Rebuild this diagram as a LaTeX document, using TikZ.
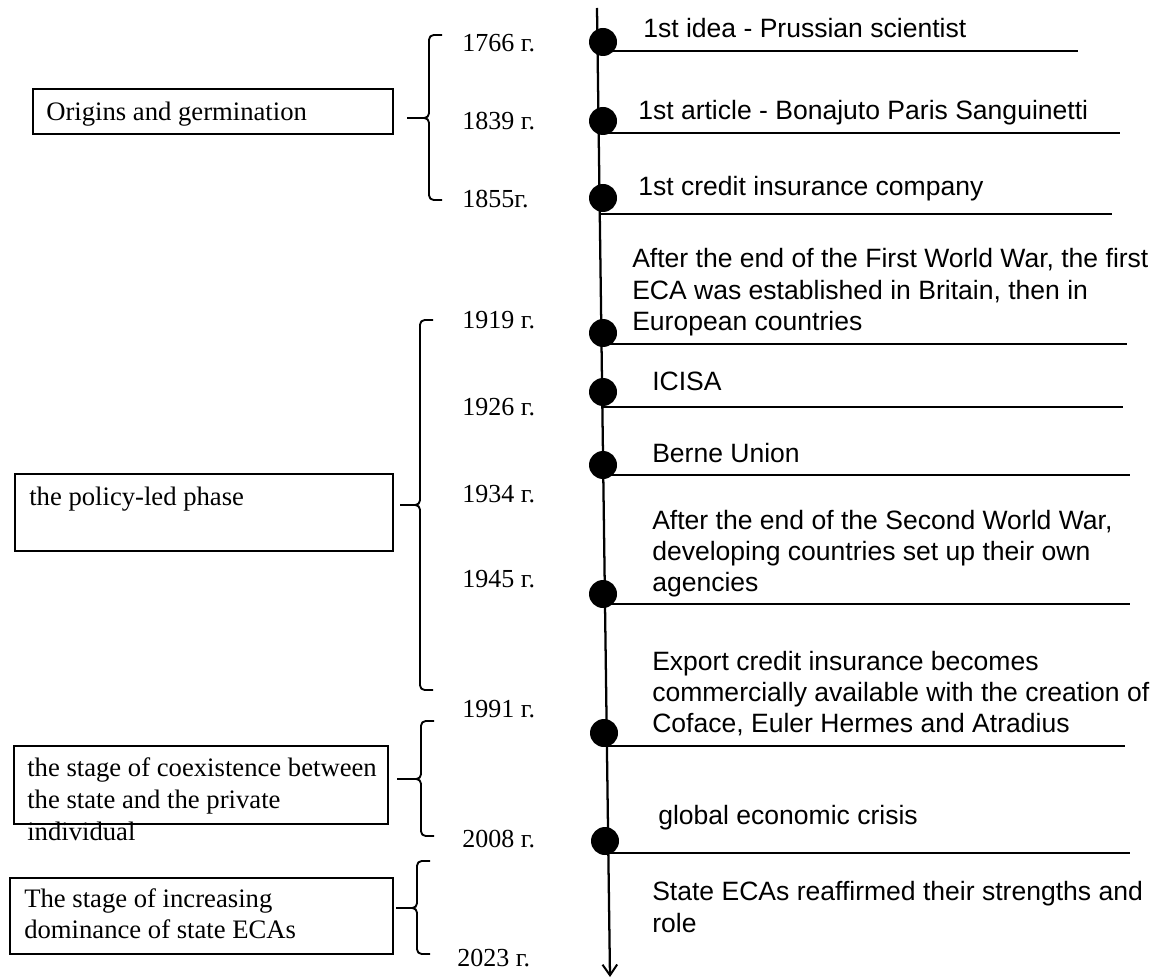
\documentclass[tikz,border=0pt]{standalone}
\usepackage{fontspec}
\setmainfont{Liberation Serif}
\newfontfamily\notefont{Liberation Sans}
\usetikzlibrary{arrows.meta}

% left brace: x of the spine, top y, bottom y, x of the point, y of the point
\newcommand\stagebrace[5]{%
  \draw[bracepath] (#1+13,#2) -- (#1,#2) -- (#1,#5) -- (#4,#5);
  \draw[bracepath] (#1+13,#3) -- (#1,#3) -- (#1,#5) -- (#4,#5);}

\begin{document}
\begin{tikzpicture}[x=0.75pt,y=-0.75pt,
  axisline/.style={line width=1.7pt},
  tickline/.style={line width=1.4pt},
  eventdot/.style={circle,fill=black,inner sep=0pt,minimum size=21pt},
  stagebox/.style={draw,line width=1.4pt,anchor=north west,inner sep=0pt},
  stagetext/.style={anchor=base west,inner sep=0pt,font=\fontsize{20}{23}\selectfont},
  yeartext/.style={anchor=base west,inner sep=0pt,font=\fontsize{19.5}{22}\selectfont},
  eventtext/.style={anchor=base west,inner sep=0pt,font=\notefont\fontsize{19.9}{23}\selectfont},
  bracepath/.style={line width=1.4pt,rounded corners=3.5pt}
]
\useasboundingbox (0,0) rectangle (1156,980);

% time axis
\coordinate (axtop) at (597,8);
\coordinate (axend) at (610,977);
\draw[axisline,-{Straight Barb[length=8pt,width=11pt,line width=1.5pt]}] (axtop) -- (axend);

% event rules under each entry
\foreach \n/\y/\xs/\xe in {1766/51/598/1078, 1839/133/599/1120, 1855/214/599/1112,
  1919/344/601/1127, 1926/407/602/1123, 1934/475/603/1130, 1945/604/604/1130,
  1991/746/606/1125, 2008/853/608/1130}{
  \coordinate (s\n) at (\xs,\y);
  \coordinate (e\n) at (\xe,\y);
  \draw[tickline] (s\n) -- (e\n);
}

% event markers
\foreach \n/\x/\y in {1766/603/42, 1839/603/121, 1855/603/198, 1919/603/333,
  1926/603/392, 1934/603/465, 1945/603/594, 1991/604/733, 2008/605/841}{
  \node[eventdot] (d\n) at (\x,\y) {};
}

% years
\node[yeartext] (y1766) at (462,52) {1766 г.};
\node[yeartext] (y1839) at (462,130) {1839 г.};
\node[yeartext] (y1855) at (462,208) {1855г.};
\node[yeartext] (y1919) at (462,329) {1919 г.};
\node[yeartext] (y1926) at (462,415) {1926 г.};
\node[yeartext] (y1934) at (462,502) {1934 г.};
\node[yeartext] (y1945) at (462,587) {1945 г.};
\node[yeartext] (y1991) at (462,717) {1991 г.};
\node[yeartext] (y2008) at (462,847) {2008 г.};
\node[yeartext] (y2023) at (457,966) {2023 г.};

% event descriptions
\node[eventtext] (t1766) at (643,38) {1st idea - Prussian scientist};
\node[eventtext] (t1839) at (638,120) {1st article - Bonajuto Paris Sanguinetti};
\node[eventtext] (t1855) at (638,196) {1st credit insurance company};
\node[eventtext] (t1919a) at (632,268) {After the end of the First World War, the first};
\node[eventtext] (t1919b) at (632,300) {ECA was established in Britain, then in};
\node[eventtext] (t1919c) at (632,331) {European countries};
\node[eventtext] (t1926) at (652,391) {ICISA};
\node[eventtext] (t1934) at (652,462) {Berne Union};
\node[eventtext] (t1945a) at (652,529) {After the end of the Second World War,};
\node[eventtext] (t1945b) at (652,560) {developing countries set up their own};
\node[eventtext] (t1945c) at (652,591) {agencies};
\node[eventtext] (t1991a) at (652,670) {Export credit insurance becomes};
\node[eventtext] (t1991b) at (652,701) {commercially available with the creation of};
\node[eventtext] (t1991c) at (652,732) {Coface, Euler Hermes and Atradius};
\node[eventtext] (t2008) at (658,824) {global economic crisis};
\node[eventtext] (t2023a) at (652,900) {State ECAs reaffirmed their strengths and};
\node[eventtext] (t2023b) at (652,932) {role};

% stage boxes
\node[stagebox,minimum width=270pt,minimum height=33.75pt] (stage1) at (32,88) {};
\node[stagebox,minimum width=283.5pt,minimum height=57.75pt] (stage2) at (14,473) {};
\node[stagebox,minimum width=280.5pt,minimum height=58.5pt] (stage3) at (13,745) {};
\node[stagebox,minimum width=287.25pt,minimum height=57pt] (stage4) at (9,877) {};

\node[stagetext] (s1text) at (46,121) {Origins and germination};
\node[stagetext] (s2text) at (29,505) {the policy-led phase};
\node[stagetext] (s3texta) at (27,776) {the stage of coexistence between};
\node[stagetext] (s3textb) at (27,808) {the state and the private};
\node[stagetext] (s3textc) at (27,840) {individual};
\node[stagetext] (s4texta) at (24,907) {The stage of increasing};
\node[stagetext] (s4textb) at (24,938) {dominance of state ECAs};

% braces grouping the years into stages
\stagebrace{429}{35}{200}{407}{118}
\stagebrace{420}{320}{690}{400}{505}
\stagebrace{421}{721}{836}{397}{779}
\stagebrace{417}{861}{954}{396}{908}

\end{tikzpicture}
\end{document}
